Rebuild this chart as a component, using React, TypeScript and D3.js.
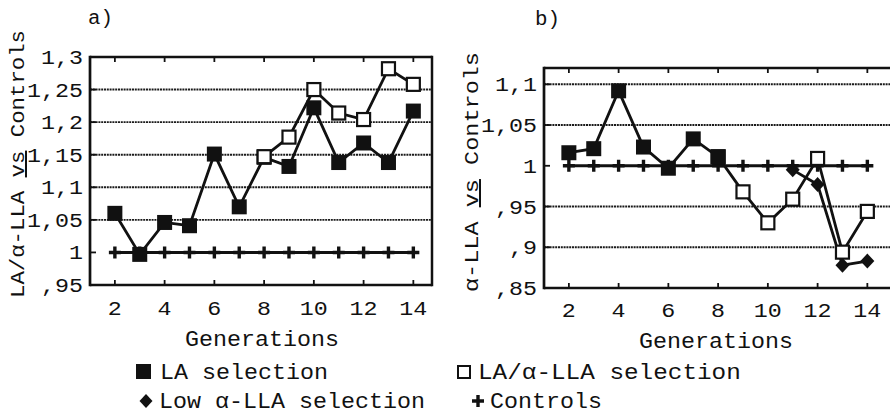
import React from 'react';
import * as d3 from 'd3';

// ---------- data ----------
const generations = [2, 3, 4, 5, 6, 7, 8, 9, 10, 11, 12, 13, 14];
const xTickValues = [2, 4, 6, 8, 10, 12, 14];

// Panel a) LA/α-LLA vs Controls
const aLASelection = [1.06, 0.997, 1.046, 1.041, 1.151, 1.07, 1.146, 1.132, 1.222, 1.138, 1.168, 1.138, 1.217];
const aLALLAGenerations = [8, 9, 10, 11, 12, 13, 14];
const aLALLASelection = [1.147, 1.177, 1.25, 1.214, 1.204, 1.282, 1.258];
const aControls = [1, 1, 1, 1, 1, 1, 1, 1, 1, 1, 1, 1, 1];
const aYTicks = [0.95, 1, 1.05, 1.1, 1.15, 1.2, 1.25, 1.3];
const aYTickLabels = [',95', '1', '1,05', '1,1', '1,15', '1,2', '1,25', '1,3'];

// Panel b) α-LLA vs Controls
const bLAGenerations = [2, 3, 4, 5, 6, 7, 8];
const bLASelection = [1.016, 1.021, 1.092, 1.023, 0.997, 1.033, 1.011];
const bLALLAGenerations = [8, 9, 10, 11, 12, 13, 14];
const bLALLASelection = [1.011, 0.968, 0.93, 0.959, 1.009, 0.894, 0.944];
const bLowGenerations = [11, 12, 13, 14];
const bLowSelection = [0.995, 0.977, 0.878, 0.883];
const bControls = [1, 1, 1, 1, 1, 1, 1, 1, 1, 1, 1, 1, 1];
const bYTicks = [0.85, 0.9, 0.95, 1, 1.05, 1.1];
const bYTickLabels = [',85', ',9', ',95', '1', '1,05', '1,1'];

const legendItems = ['LA selection', 'LA/α-LLA selection', 'Low α-LLA selection', 'Controls'];

// ---------- style ----------
const FONT = '"Liberation Mono", "DejaVu Sans Mono", monospace';
const INK = '#111';

type Pt = [number, number];

function T(props: {
  x: number; y: number; text: string; size: number; cw: number;
  anchor?: 'start' | 'middle' | 'end'; transform?: string;
}) {
  const { x, y, text, size, cw, anchor = 'start', transform } = props;
  return (
    <text x={x} y={y} fontFamily={FONT} fontSize={size} fill={INK} textAnchor={anchor}
      textLength={Array.from(text).length * cw} lengthAdjust="spacingAndGlyphs" transform={transform}>
      {text}
    </text>
  );
}

const Plus = ({ x, y }: { x: number; y: number }) => (
  <path d={`M${x - 6},${y}H${x + 6}M${x},${y - 6}V${y + 6}`} stroke={INK} strokeWidth={3.4} />
);
const FilledSq = ({ x, y }: { x: number; y: number }) => (
  <rect x={x - 7.5} y={y - 7.5} width={15} height={15} fill={INK} />
);
const OpenSq = ({ x, y }: { x: number; y: number }) => (
  <rect x={x - 6.5} y={y - 6.5} width={13} height={13} fill="#fff" stroke={INK} strokeWidth={2.2} />
);
const Diamond = ({ x, y }: { x: number; y: number }) => (
  <path d={`M${x},${y - 7.5}L${x + 7},${y}L${x},${y + 7.5}L${x - 7},${y}Z`} fill={INK} />
);

type Series = { gens: number[]; vals: number[]; marker: 'filled' | 'open' | 'diamond' | 'plus' };

function Panel(props: {
  left: number; top: number; width: number; height: number; frameRight: number;
  yDomain: [number, number]; yTicks: number[]; yLabels: string[];
  gridValues: number[]; series: Series[]; drawRight: boolean;
  xLabelY: number; titleText: string; titleX: number; titleY: number;
  yTitle: [string, string, string]; yTitleX: number; yTitleY: number; yTitleLen: number;
  tickLabelX: number;
}) {
  const p = props;
  const x = d3.scaleLinear().domain([1, 14.75]).range([p.left, p.left + p.width]);
  const y = d3.scaleLinear().domain(p.yDomain).range([p.top + p.height, p.top]);
  const line = d3.line<Pt>().x(d => x(d[0])).y(d => y(d[1]));
  const bottom = p.top + p.height;
  const right = p.frameRight;
  const midX = (x(2) + x(14)) / 2 - 2;

  return (
    <g>
      {/* gridlines */}
      {p.gridValues.map(v => (
        <line key={'g' + v} x1={p.left} x2={right} y1={y(v)} y2={y(v)} stroke="#1a1a1a"
          strokeWidth={1.9} strokeDasharray="2 0.8" />
      ))}
      {/* frame */}
      <line x1={p.left} x2={right} y1={p.top} y2={p.top} stroke={INK} strokeWidth={2.5} />
      <line x1={p.left} x2={right} y1={bottom} y2={bottom} stroke={INK} strokeWidth={2.5} />
      <line x1={p.left} x2={p.left} y1={p.top - 1.25} y2={bottom + 1.25} stroke={INK} strokeWidth={2.7} />
      {p.drawRight && (
        <line x1={right} x2={right} y1={p.top - 1.25} y2={bottom + 1.25} stroke={INK} strokeWidth={2.5} />
      )}
      {/* x ticks */}
      {xTickValues.map(g => (
        <g key={'xt' + g}>
          <line x1={x(g)} x2={x(g)} y1={p.top} y2={p.top + 5} stroke={INK} strokeWidth={1.8} />
          <line x1={x(g)} x2={x(g)} y1={bottom} y2={bottom - 5} stroke={INK} strokeWidth={1.8} />
          <T x={x(g)} y={p.xLabelY} text={String(g)} size={20} cw={14} anchor="middle" />
        </g>
      ))}
      {/* y ticks */}
      {p.yTicks.map((v, i) => (
        <g key={'yt' + v}>
          <line x1={p.left} x2={p.left + 6} y1={y(v)} y2={y(v)} stroke={INK} strokeWidth={1.8} />
          <T x={p.tickLabelX} y={y(v) + 7} text={p.yLabels[i]} size={20} cw={14} anchor="end" />
        </g>
      ))}
      {/* series */}
      {p.series.map((s, si) => {
        const pts: Pt[] = s.gens.map((g, i) => [g, s.vals[i]]);
        return (
          <g key={'s' + si}>
            <path d={line(pts) || ''} fill="none" stroke={INK}
              strokeWidth={s.marker === 'plus' ? 3 : 2.8} strokeLinejoin="miter" />
            {pts.map((d, i) => {
              const cx = x(d[0]);
              const cy = y(d[1]);
              if (s.marker === 'filled') return <FilledSq key={i} x={cx} y={cy} />;
              if (s.marker === 'open') return <OpenSq key={i} x={cx} y={cy} />;
              if (s.marker === 'diamond') return <Diamond key={i} x={cx} y={cy} />;
              return <Plus key={i} x={cx} y={cy} />;
            })}
          </g>
        );
      })}
      {/* axis titles */}
      <T x={midX} y={p.xLabelY + 31} text="Generations" size={22} cw={14} anchor="middle" />
      <T x={p.titleX} y={p.titleY} text={p.titleText} size={20} cw={12.5} />
      <text x={p.yTitleX} y={p.yTitleY} fontFamily={FONT} fontSize={20} fill={INK} textAnchor="middle"
        textLength={p.yTitleLen} lengthAdjust="spacingAndGlyphs"
        transform={`rotate(-90 ${p.yTitleX} ${p.yTitleY})`}>
        {p.yTitle[0]}
        <tspan textDecoration="underline">{p.yTitle[1]}</tspan>
        {p.yTitle[2]}
      </text>
    </g>
  );
}

export default function App() {
  return (
    <svg width={890} height={414} viewBox="0 0 890 414"
      style={{ position: 'absolute', left: 0, top: 0, background: '#fff' }}>
      <rect x={0} y={0} width={890} height={414} fill="#fff" />
      <Panel
        left={90} top={57} width={342} height={228} frameRight={432}
        yDomain={[0.95, 1.3]} yTicks={aYTicks} yLabels={aYTickLabels}
        gridValues={[1.05, 1.1, 1.15, 1.2, 1.25]}
        drawRight={true}
        xLabelY={315}
        titleText="a)" titleX={88} titleY={24}
        yTitle={['LA/α-LLA ', 'vs', ' Controls']} yTitleX={24} yTitleY={164} yTitleLen={268}
        tickLabelX={83}
        series={[
          { gens: generations, vals: aControls, marker: 'plus' },
          { gens: generations, vals: aLASelection, marker: 'filled' },
          { gens: aLALLAGenerations, vals: aLALLASelection, marker: 'open' },
        ]}
      />
      <Panel
        left={544} top={68} width={342} height={220} frameRight={890}
        yDomain={[0.85, 1.12]} yTicks={bYTicks} yLabels={bYTickLabels}
        gridValues={[0.9, 0.95, 1.05, 1.1]}
        drawRight={false}
        xLabelY={317}
        titleText="b)" titleX={535} titleY={25}
        yTitle={['α-LLA ', 'vs', ' Controls']} yTitleX={478} yTitleY={172} yTitleLen={240}
        tickLabelX={537}
        series={[
          { gens: generations, vals: bControls, marker: 'plus' },
          { gens: bLowGenerations, vals: bLowSelection, marker: 'diamond' },
          { gens: bLALLAGenerations, vals: bLALLASelection, marker: 'open' },
          { gens: bLAGenerations, vals: bLASelection, marker: 'filled' },
        ]}
      />
      {/* legend */}
      <g>
        <rect x={136} y={364} width={15} height={15} fill={INK} />
        <T x={160} y={379} text={legendItems[0]} size={22} cw={14} />
        <rect x={458} y={366} width={12} height={12} fill="#fff" stroke={INK} strokeWidth={2} />
        <T x={478} y={379} text={legendItems[1]} size={22} cw={14.6} />
        <path d="M146,394L152.5,401L146,408L139.5,401Z" fill={INK} />
        <T x={159} y={408} text={legendItems[2]} size={22} cw={14} />
        <path d="M472,401H484M478,395V407" stroke={INK} strokeWidth={3.4} />
        <T x={490} y={408} text={legendItems[3]} size={22} cw={14} />
      </g>
    </svg>
  );
}
